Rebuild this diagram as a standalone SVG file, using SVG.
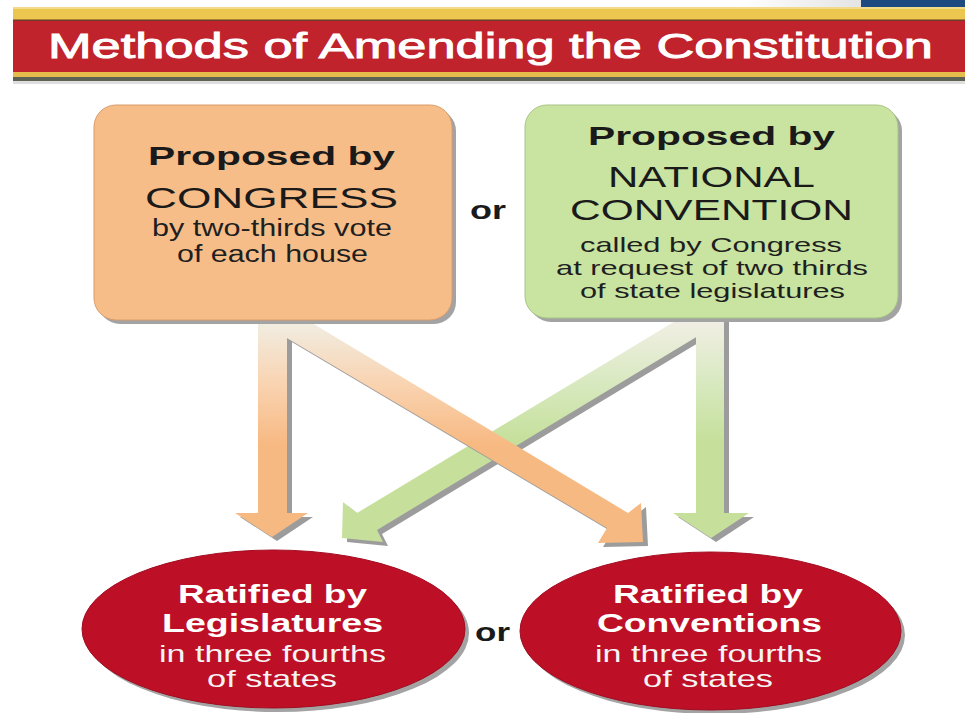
<svg xmlns="http://www.w3.org/2000/svg" width="965" height="713" viewBox="0 0 965 713">
  <style>
    text { font-family: "Liberation Sans", Arial, Helvetica, sans-serif; text-anchor: middle; }
    .title { font-size: 35px; fill: #ffffff; stroke: #ffffff; stroke-width: 0.9px; }
    .hb { font-size: 25px; font-weight: bold; fill: #1a1a1a; }
    .hu { font-size: 29px; fill: #1a1a1a; }
    .sm { font-size: 23px; fill: #1f1f1f; }
    .sm2 { font-size: 21px; fill: #1f1f1f; }
    .or { font-size: 26px; font-weight: bold; fill: #1a1a1a; }
    .wb { font-size: 25px; font-weight: bold; fill: #ffffff; }
    .wr { font-size: 24px; fill: #f4f4f4; }
    .shadow { fill: #9c9c9c; }
    .oshape { fill: url(#gOrange); }
    .gshape { fill: url(#gGreen); }
    .ell { fill: #bd1027; stroke: #a10c20; stroke-width: 1; }
  </style>
  <defs>
    <linearGradient id="gOrange" gradientUnits="userSpaceOnUse" x1="0" y1="325" x2="0" y2="445">
      <stop offset="0" stop-color="#f1ece0"/>
      <stop offset="0.5" stop-color="#f9d3b0"/>
      <stop offset="1" stop-color="#f7b982"/>
    </linearGradient>
    <linearGradient id="gGreen" gradientUnits="userSpaceOnUse" x1="0" y1="325" x2="0" y2="440">
      <stop offset="0" stop-color="#f0eee2"/>
      <stop offset="0.5" stop-color="#d8e9c0"/>
      <stop offset="1" stop-color="#c6e09c"/>
    </linearGradient>
    <linearGradient id="gTop" x1="0" y1="0" x2="1" y2="0">
      <stop offset="0" stop-color="#ffffff"/>
      <stop offset="1" stop-color="#e4e4e4"/>
    </linearGradient>
  </defs>

  <rect x="0" y="0" width="965" height="713" fill="#ffffff"/>

  <g id="titlebar">
    <rect x="740" y="0" width="121" height="7" fill="url(#gTop)"/>
    <rect x="861" y="0" width="104" height="7" fill="#1f4a80"/>
    <rect x="13" y="7" width="952" height="14" fill="#ecc74f"/>
    <rect x="13" y="7" width="952" height="2" fill="#f3d98a"/>
    <rect x="13" y="19.5" width="952" height="1.5" fill="#6e3b2a"/>
    <rect x="13" y="21" width="952" height="52" fill="#c1232d"/>
    <rect x="13" y="72" width="952" height="5" fill="#e6bd4c"/>
    <rect x="13" y="77" width="952" height="4" fill="#5d6252"/>
    <rect x="13" y="81" width="952" height="3" fill="#dedede"/>
    <text class="title" x="490.5" y="58" textLength="885" lengthAdjust="spacingAndGlyphs">Methods of Amending the Constitution</text>
  </g>

  <g id="connectors">
    <g id="green-arrows">
      <polygon class="shadow" transform="translate(5,4)" points="696,310 724,310 724,513 749,513 711,538 673,513 696,513"/>
      <polygon class="shadow" transform="translate(5,4)" points="702,305 357,513 343,502 342,538 383,542 377,530 708,330"/>
      <polygon class="gshape" points="702,305 357,513 343,502 342,538 383,542 377,530 708,330"/>
      <polygon class="gshape" points="696,310 724,310 724,513 749,513 711,538 673,513 696,513"/>
    </g>
    <g id="orange-arrows">
      <polygon class="shadow" transform="translate(5,4)" points="258,310 287,310 287,513 308,513 272,537 235,513 258,513"/>
      <polygon class="shadow" transform="translate(5,4)" points="282,305 628,513 641,503 643,542 598,543 607,528 270,328"/>
      <polygon class="oshape" points="282,305 628,513 641,503 643,542 598,543 607,528 270,328"/>
      <polygon class="oshape" points="258,310 287,310 287,513 308,513 272,537 235,513 258,513"/>
    </g>
  </g>

  <g id="congress">
    <rect x="98" y="109" width="358" height="215" rx="22" fill="#a3a3a3"/>
    <rect x="94" y="105" width="358" height="215" rx="22" fill="#f7bd89" stroke="#d99c6b" stroke-width="1"/>
    <text class="hb" x="271.5" y="165" textLength="247" lengthAdjust="spacingAndGlyphs">Proposed by</text>
    <text class="hu" x="271.5" y="208" textLength="253" lengthAdjust="spacingAndGlyphs">CONGRESS</text>
    <text class="sm" x="272" y="236" textLength="240" lengthAdjust="spacingAndGlyphs">by two-thirds vote</text>
    <text class="sm" x="272.5" y="262" textLength="191" lengthAdjust="spacingAndGlyphs">of each house</text>
  </g>

  <g id="or-top">
    <text class="or" x="488" y="219" textLength="36" lengthAdjust="spacingAndGlyphs">or</text>
  </g>

  <g id="convention">
    <rect x="529" y="109" width="373" height="213" rx="22" fill="#a3a3a3"/>
    <rect x="525" y="105" width="373" height="213" rx="22" fill="#c9e3a0" stroke="#a7c584" stroke-width="1"/>
    <text class="hb" x="711.5" y="145" textLength="247" lengthAdjust="spacingAndGlyphs">Proposed by</text>
    <text class="hu" x="711.5" y="187" textLength="207" lengthAdjust="spacingAndGlyphs">NATIONAL</text>
    <text class="hu" x="711.5" y="220" textLength="283" lengthAdjust="spacingAndGlyphs">CONVENTION</text>
    <text class="sm2" x="711" y="252" textLength="262" lengthAdjust="spacingAndGlyphs">called by Congress</text>
    <text class="sm2" x="712" y="275" textLength="312" lengthAdjust="spacingAndGlyphs">at request of two thirds</text>
    <text class="sm2" x="712.5" y="298" textLength="265" lengthAdjust="spacingAndGlyphs">of state legislatures</text>
  </g>

  <g id="legislatures">
    <ellipse cx="277.5" cy="633" rx="191.5" ry="79" fill="#a3a3a3"/>
    <ellipse class="ell" cx="273.5" cy="629" rx="191.5" ry="79"/>
    <text class="wb" x="272.5" y="603" textLength="189" lengthAdjust="spacingAndGlyphs">Ratified by</text>
    <text class="wb" x="272.5" y="632" textLength="221" lengthAdjust="spacingAndGlyphs">Legislatures</text>
    <text class="wr" x="272.5" y="662" textLength="227" lengthAdjust="spacingAndGlyphs">in three fourths</text>
    <text class="wr" x="272" y="687" textLength="130" lengthAdjust="spacingAndGlyphs">of states</text>
  </g>

  <g id="or-bottom">
    <text class="or" x="492.5" y="641" textLength="35" lengthAdjust="spacingAndGlyphs">or</text>
  </g>

  <g id="conventions">
    <ellipse cx="714.5" cy="635" rx="190.5" ry="79" fill="#a3a3a3"/>
    <ellipse class="ell" cx="710.5" cy="631" rx="190.5" ry="79"/>
    <text class="wb" x="708" y="603" textLength="190" lengthAdjust="spacingAndGlyphs">Ratified by</text>
    <text class="wb" x="709.5" y="632" textLength="225" lengthAdjust="spacingAndGlyphs">Conventions</text>
    <text class="wr" x="708.5" y="662" textLength="227" lengthAdjust="spacingAndGlyphs">in three fourths</text>
    <text class="wr" x="708" y="687" textLength="130" lengthAdjust="spacingAndGlyphs">of states</text>
  </g>
</svg>
